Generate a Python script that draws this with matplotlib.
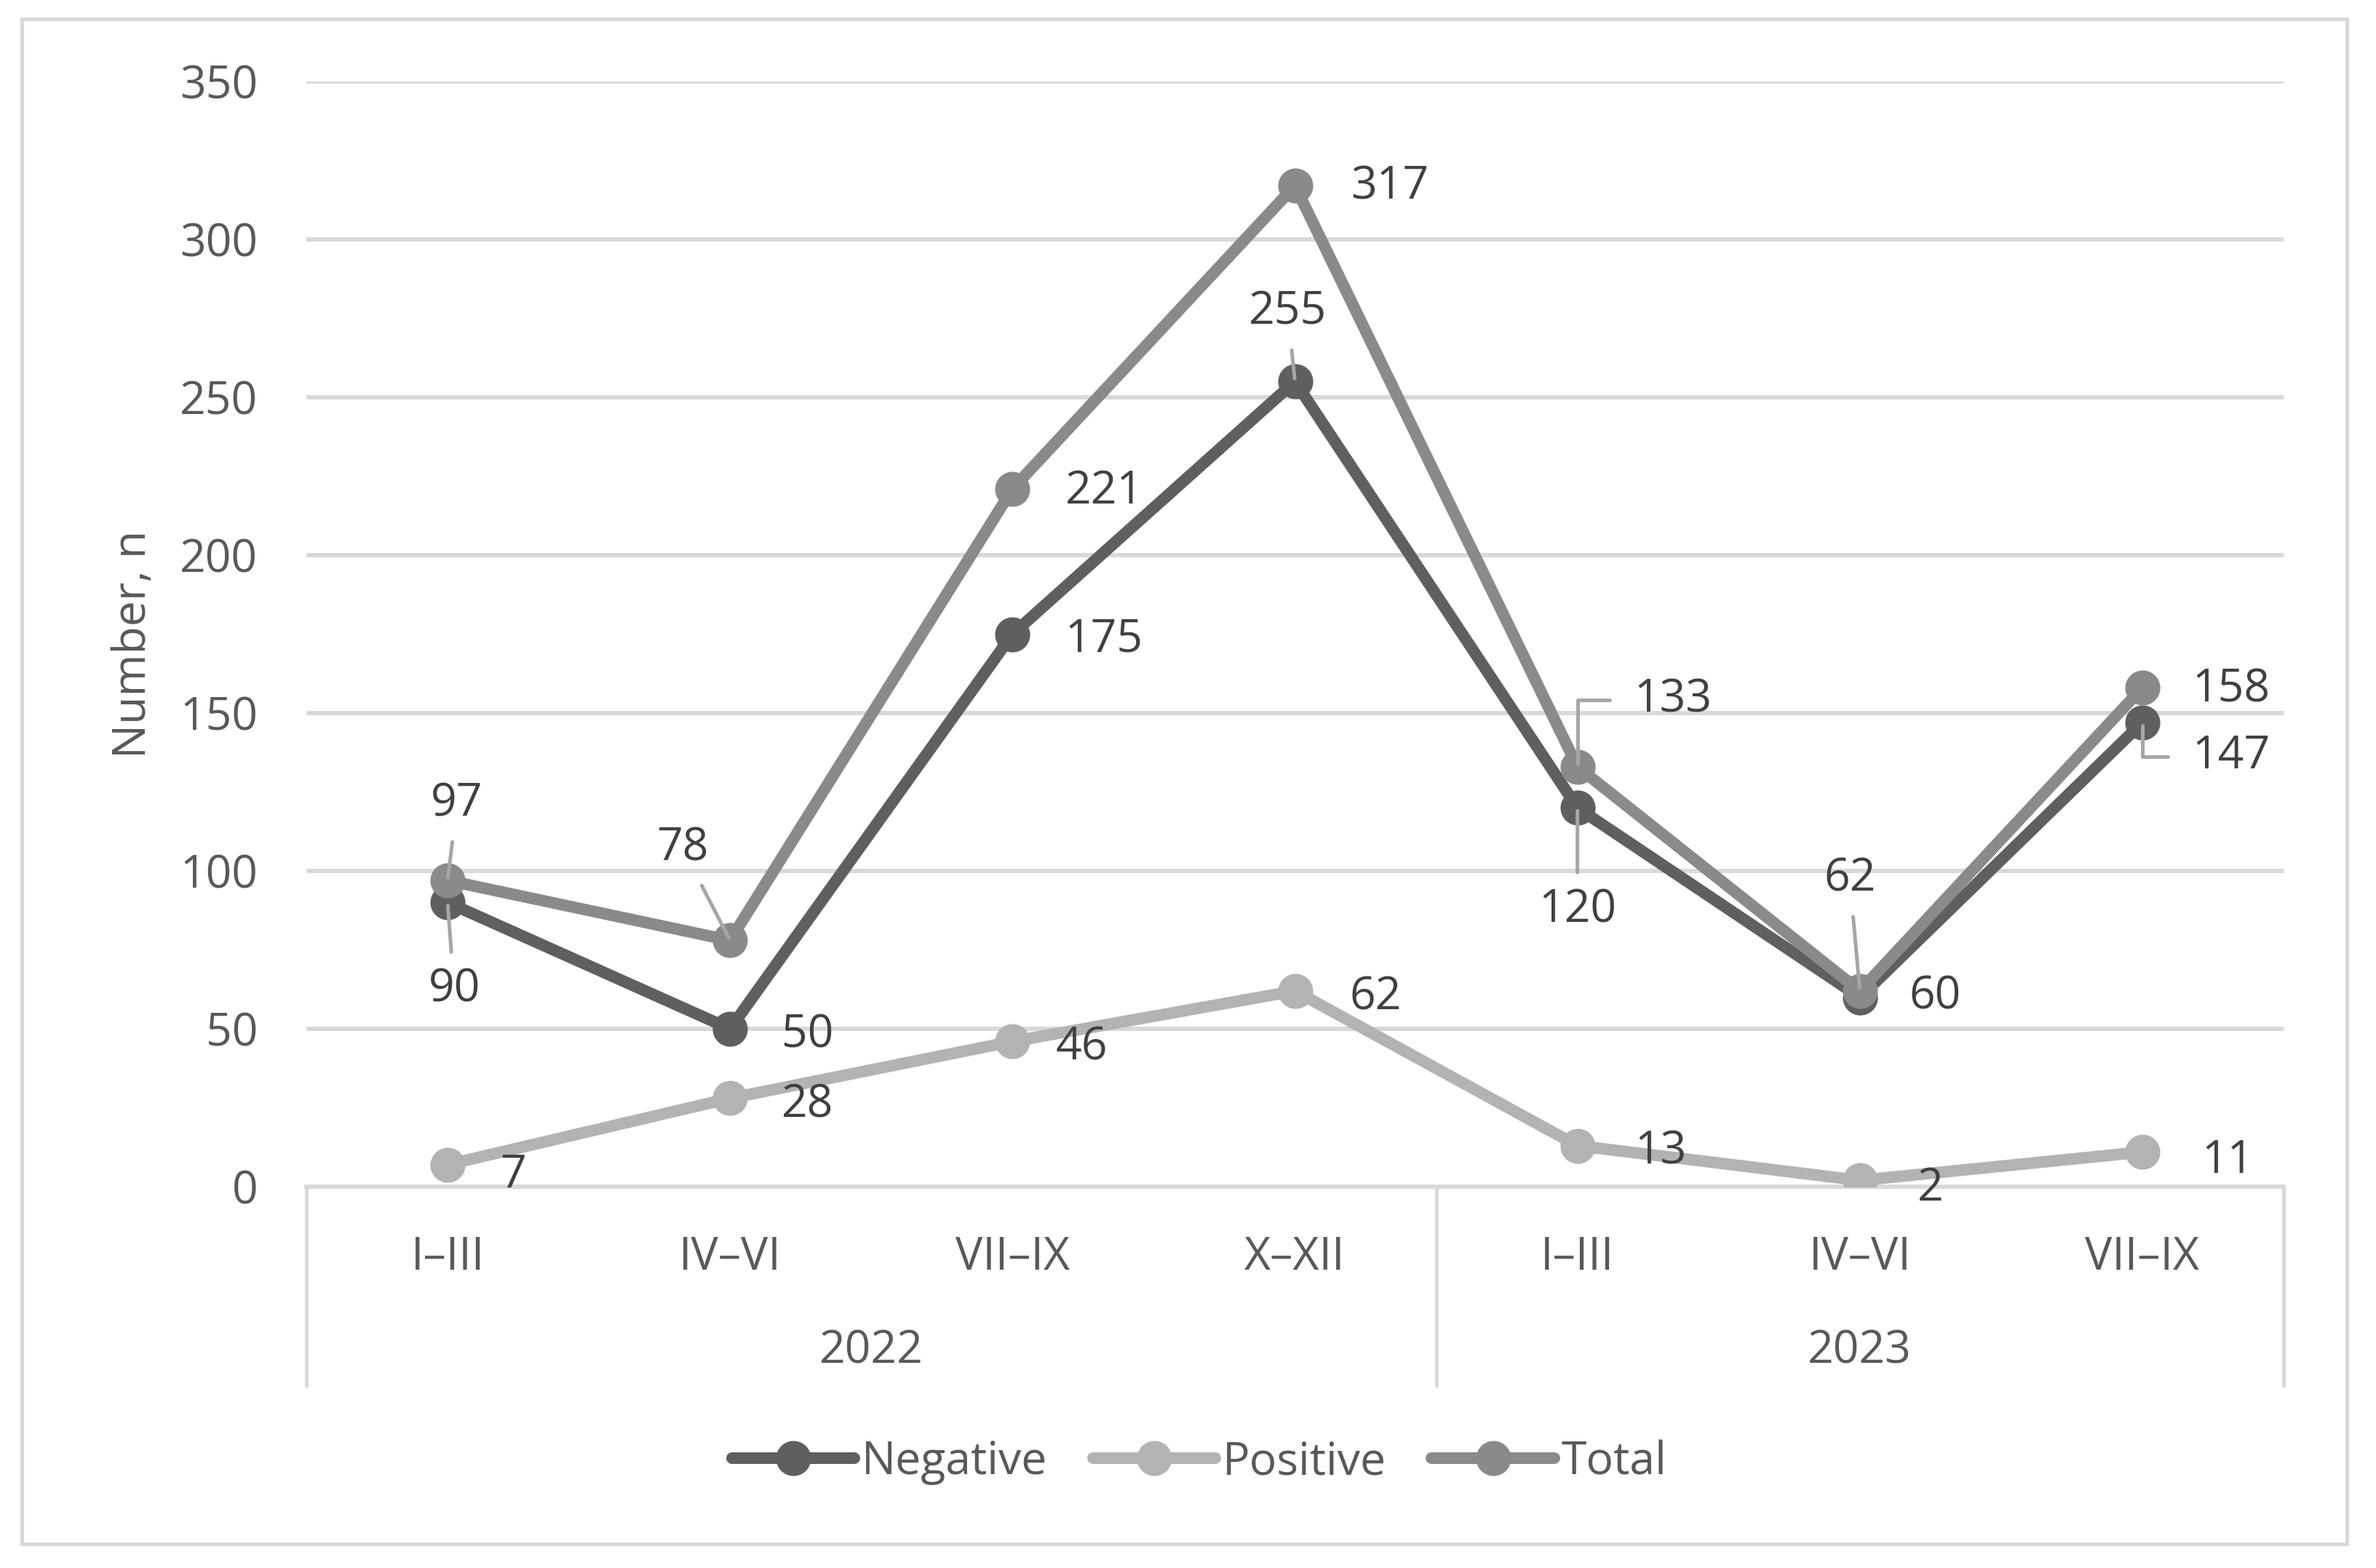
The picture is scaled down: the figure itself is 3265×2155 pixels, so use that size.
import matplotlib
matplotlib.use("Agg")
import matplotlib.pyplot as plt
from matplotlib.patches import Rectangle

### data
quarters  = ['I–III', 'IV–VI', 'VII–IX', 'X–XII', 'I–III', 'IV–VI', 'VII–IX']
years     = ['2022', '2023']
year_span = [4, 3]
negative  = [90, 50, 175, 255, 120, 60, 147]
positive  = [7, 28, 46, 62, 13, 2, 11]
total     = [97, 78, 221, 317, 133, 62, 158]

### label offsets in pixels (dx, dy, leader style)
neg_off = [(9, 120, 'line'), (106, 9, None), (126, 8, None), (-10, -95, 'line'),
           (0, 141, 'line'), (103, 0, None), (122, 47, 'elbow')]
pos_off = [(90, 15, None), (106, 10, None), (95, 9, None), (111, 9, None),
           (114, 9, None), (97, 11, None), (117, 12, None)]
tot_off = [(13, -105, 'line'), (-65, -126, 'line'), (126, 4, None), (130, 2, None),
           (131, -92, 'elbow'), (-14, -154, 'line'), (122, 3, None)]

plt.rcParams['font.family'] = ['Open Sans', 'DejaVu Sans']

W, H, DPI = 3265, 2155, 300
fig = plt.figure(figsize=(W / DPI, H / DPI), dpi=DPI)
px = 72.0 / DPI

# outer frame
fig.patches.append(Rectangle((30 / W, 1 - 2122 / H), (3225 - 30) / W, (2122 - 26) / H,
                             transform=fig.transFigure, fill=False,
                             edgecolor='#d9d9d9', linewidth=5 * px))

x0, x1, ytop, ybot = 421, 3138, 112, 1631
ax = fig.add_axes([x0 / W, 1 - ybot / H, (x1 - x0) / W, (ybot - ytop) / H])

grid_c = '#d9d9d9'
text_c = '#595959'
lab_c  = '#404040'
lead_c = '#a6a6a6'

xs = list(range(len(quarters)))
series = [
	('Negative', negative, '#5f5f5f', neg_off),
	('Positive', positive, '#b3b3b3', pos_off),
	('Total',    total,    '#8a8a8a', tot_off),
]

for name, vals, col, offs in series:
	ax.plot(xs, vals, color=col, linewidth=16 * px, marker='o',
	        markersize=44 * px, label=name, solid_capstyle='round',
	        solid_joinstyle='round', zorder=3)

for name, vals, col, offs in series:
	for x, v, (dx, dy, lead) in zip(xs, vals, offs):
		kw = {}
		if lead == 'line':
			kw['arrowprops'] = dict(arrowstyle='-', color=lead_c, lw=5 * px,
			                        shrinkA=3, shrinkB=1)
		elif lead == 'elbow':
			kw['arrowprops'] = dict(arrowstyle='-', color=lead_c, lw=5 * px,
			                        shrinkA=6, shrinkB=1, relpos=(0, 0.5),
			                        connectionstyle='angle,angleA=180,angleB=90,rad=0')
		ax.annotate(str(v), xy=(x, v), xytext=(dx * px, -dy * px),
		            textcoords='offset points', ha='center', va='center',
		            fontsize=15, color=lab_c, zorder=5, **kw)

ax.set_xlim(-0.5, len(quarters) - 0.5)
ax.set_ylim(0, 350)
ax.set_yticks(range(0, 351, 50))
ax.yaxis.grid(True, color=grid_c, linewidth=6 * px)
ax.set_axisbelow(True)
for s in ['top', 'right', 'left']:
	ax.spines[s].set_visible(False)
ax.spines['bottom'].set_color(grid_c)
ax.spines['bottom'].set_linewidth(6 * px)
ax.spines['bottom'].set_zorder(1)

ax.set_xticks(xs, quarters)
ax.tick_params(axis='x', length=0, pad=16, labelsize=15, labelcolor=text_c)
ax.tick_params(axis='y', length=0, pad=16, labelsize=15, labelcolor=text_c)

# category separators and year labels
h = ybot - ytop
sep_y = -(1904 - ybot) / h
edges = [-0.5]
for n in year_span:
	edges.append(edges[-1] + n)
trans = ax.get_xaxis_transform()
for e in edges:
	ax.plot([e, e], [0, sep_y], transform=trans, color=grid_c,
	        linewidth=5 * px, clip_on=False, zorder=1)
for yr, a, b in zip(years, edges[:-1], edges[1:]):
	ax.text((a + b) / 2, -(1857 - ybot) / h, yr, transform=trans,
	        ha='center', va='center', fontsize=15, color=text_c)

fig.text(184 / W, 1 - 885 / H, 'Number, n', rotation=90, ha='center',
         va='center', fontsize=15, color=text_c)

fig.legend(loc='center', bbox_to_anchor=(1648 / W, 1 - 2010 / H), ncol=3,
           frameon=False, fontsize=15, handlelength=2.7, handletextpad=0.15,
           columnspacing=1.0, labelcolor=text_c)

fig.savefig('out.png', dpi=DPI)
